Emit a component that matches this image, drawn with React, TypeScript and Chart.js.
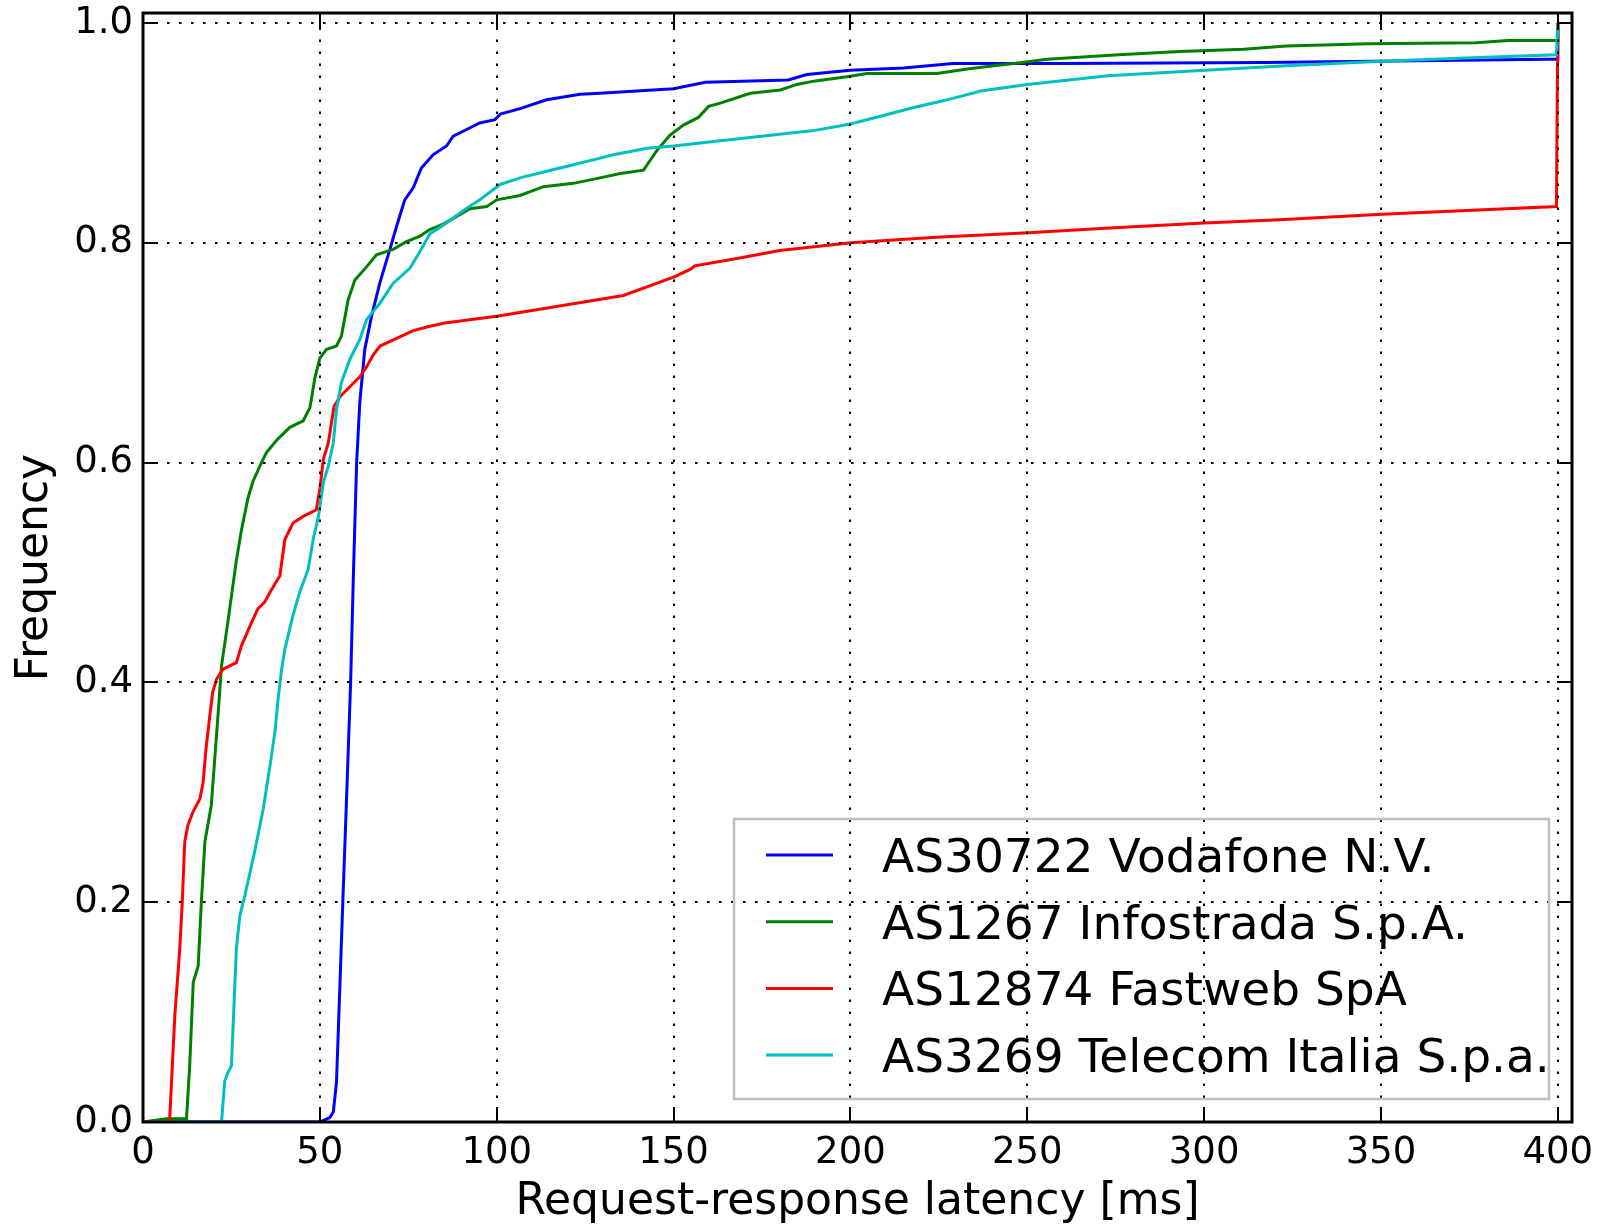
import React, { useEffect, useRef } from "react";
import { Chart, registerables } from "chart.js";

Chart.register(...registerables);

// ---- Data ----
const vodafoneX = [0, 50, 52.8, 53.8, 54.7, 55.7, 56.6, 57.5, 58.7, 59.5, 60.4, 61.3, 62.7, 64.6, 67.0, 69.8, 71.7, 74.0, 76.4, 78.7, 82.0, 85.8, 87.7, 91.5, 95.2, 99.5, 101, 106.6, 114.1, 123.6, 129.2, 144.2, 150, 159, 182.4, 187.7, 200, 215, 229, 259.4, 317, 397, 400, 400];
const vodafoneY = [0, 0, 0.004, 0.009, 0.036, 0.127, 0.21, 0.29, 0.4, 0.5, 0.6, 0.655, 0.703, 0.733, 0.764, 0.794, 0.815, 0.839, 0.85, 0.868, 0.88, 0.888, 0.897, 0.903, 0.909, 0.912, 0.917, 0.922, 0.93, 0.935, 0.936, 0.939, 0.94, 0.946, 0.948, 0.953, 0.957, 0.959, 0.963, 0.963, 0.964, 0.967, 0.967, 1.0];

const infostradaX = [0, 6.6, 12.3, 13.2, 14.2, 15.6, 16.5, 17.5, 19.3, 21.2, 22.2, 24.0, 26.4, 27.8, 29.7, 31.1, 33.5, 34.9, 37.7, 41.5, 45.3, 47.2, 48.6, 50, 51.9, 54.7, 56.1, 58.0, 59.9, 63.2, 66.0, 70.7, 74.5, 78.3, 81.1, 84.9, 88.7, 92.4, 97.2, 100, 106.6, 113.2, 121.7, 129.2, 134.9, 141.5, 143.4, 145.3, 149, 152.8, 157, 159.9, 163.2, 171.7, 180.2, 184.9, 189.6, 199, 204.7, 224.5, 233, 240.5, 246.2, 255.6, 275.8, 293, 311.2, 323.3, 346.5, 376.9, 385.9, 400, 400];
const infostradaY = [0, 0.003, 0.003, 0.051, 0.127, 0.142, 0.2, 0.255, 0.288, 0.37, 0.415, 0.455, 0.511, 0.538, 0.568, 0.583, 0.6, 0.609, 0.62, 0.632, 0.638, 0.65, 0.677, 0.695, 0.703, 0.706, 0.715, 0.748, 0.766, 0.778, 0.789, 0.794, 0.801, 0.806, 0.812, 0.817, 0.824, 0.831, 0.833, 0.839, 0.843, 0.851, 0.854, 0.859, 0.863, 0.866, 0.875, 0.884, 0.898, 0.907, 0.914, 0.924, 0.927, 0.936, 0.939, 0.944, 0.947, 0.951, 0.954, 0.954, 0.958, 0.961, 0.963, 0.967, 0.971, 0.974, 0.976, 0.979, 0.981, 0.982, 0.984, 0.984, 1.0];

const fastwebX = [0, 7.5, 9.0, 10.4, 11.1, 11.8, 12.7, 14.1, 16.1, 17.0, 17.8, 18.9, 19.7, 20.8, 22.6, 26.4, 27.8, 30.2, 32.5, 34.4, 35.9, 38.7, 40.1, 42.4, 45.3, 49.0, 50.0, 51.0, 52.4, 54.0, 55.7, 58.5, 61.3, 63.2, 65.1, 67.0, 71.7, 76.4, 81.1, 85.3, 100, 116.9, 135.8, 150.2, 154.8, 156, 168.7, 180, 200.2, 224.2, 250.4, 270.7, 300, 321.3, 350.3, 399.6, 400];
const fastwebY = [0, 0, 0.097, 0.158, 0.2, 0.255, 0.27, 0.282, 0.294, 0.309, 0.339, 0.37, 0.391, 0.403, 0.412, 0.418, 0.433, 0.451, 0.467, 0.473, 0.482, 0.497, 0.53, 0.545, 0.551, 0.557, 0.576, 0.603, 0.618, 0.651, 0.66, 0.669, 0.678, 0.687, 0.698, 0.706, 0.713, 0.72, 0.724, 0.727, 0.733, 0.742, 0.752, 0.769, 0.776, 0.779, 0.786, 0.793, 0.8, 0.805, 0.809, 0.813, 0.818, 0.821, 0.826, 0.833, 1.0];

const telecomX = [0, 22.2, 23.1, 24.0, 25.0, 25.6, 26.4, 27.4, 28.8, 31.7, 34.0, 35.9, 37.3, 38.2, 39.2, 40.1, 42.4, 44.3, 46.7, 48.1, 49.6, 51.0, 52.4, 53.8, 54.7, 56.1, 58.5, 61.3, 63.2, 67.0, 70.7, 75.5, 78.3, 81.1, 85.8, 90.5, 95.2, 101, 106.6, 114.1, 121.7, 129.2, 133, 142.5, 150, 161.3, 175.5, 189.6, 200, 208.5, 217.9, 227.4, 236.8, 250, 272.8, 300.3, 323.3, 350.3, 373.8, 399.6, 400];
const telecomY = [0, 0, 0.037, 0.045, 0.051, 0.097, 0.158, 0.188, 0.206, 0.248, 0.285, 0.324, 0.355, 0.385, 0.412, 0.43, 0.461, 0.482, 0.503, 0.53, 0.551, 0.582, 0.597, 0.618, 0.648, 0.673, 0.694, 0.712, 0.73, 0.745, 0.763, 0.777, 0.792, 0.808, 0.818, 0.829, 0.839, 0.853, 0.859, 0.865, 0.871, 0.877, 0.88, 0.886, 0.888, 0.892, 0.897, 0.902, 0.908, 0.915, 0.923, 0.93, 0.938, 0.944, 0.952, 0.957, 0.961, 0.965, 0.968, 0.971, 1.0];

const seriesLabels = [
  "AS30722 Vodafone N.V.",
  "AS1267 Infostrada S.p.A.",
  "AS12874 Fastweb SpA",
  "AS3269 Telecom Italia S.p.a.",
];

const xTickValues = [0, 50, 100, 150, 200, 250, 300, 350, 400];
const yTickValues = [0, 0.2, 0.4, 0.6, 0.8, 1.0];
const xAxisTitle = "Request-response latency [ms]";
const yAxisTitle = "Frequency";

// ---- Styles ----
const seriesColors = ["#0000ff", "#008000", "#ff0000", "#00bfbf"];
const FONT = "'DejaVu Sans', sans-serif";

const toPoints = (xs: number[], ys: number[]) => xs.map((x, i) => ({ x, y: ys[i] }));

const framePlugin = {
  id: "mplFrame",
  afterDatasetsDraw(chart: any) {
    const { ctx, chartArea, scales } = chart;
    const { left, right, top, bottom } = chartArea;
    const xs = scales.x;
    const ys = scales.y;
    ctx.save();
    // dotted grid (drawn above lines, like matplotlib classic)
    ctx.strokeStyle = "#000";
    ctx.lineWidth = 2;
    ctx.setLineDash([2.5, 9.5]);
    for (const v of xTickValues) {
      const px = Math.round(xs.getPixelForValue(v));
      ctx.beginPath();
      ctx.moveTo(px, bottom);
      ctx.lineTo(px, top);
      ctx.stroke();
    }
    for (const v of yTickValues) {
      const py = Math.round(ys.getPixelForValue(v));
      ctx.beginPath();
      ctx.moveTo(left, py);
      ctx.lineTo(right, py);
      ctx.stroke();
    }
    ctx.setLineDash([]);
    // inward ticks on all sides
    ctx.lineWidth = 2;
    const tl = 15;
    for (const v of xTickValues) {
      const px = Math.round(xs.getPixelForValue(v));
      ctx.beginPath();
      ctx.moveTo(px, bottom);
      ctx.lineTo(px, bottom - tl);
      ctx.moveTo(px, top);
      ctx.lineTo(px, top + tl);
      ctx.stroke();
    }
    for (const v of yTickValues) {
      const py = Math.round(ys.getPixelForValue(v));
      ctx.beginPath();
      ctx.moveTo(left, py);
      ctx.lineTo(left + tl, py);
      ctx.moveTo(right, py);
      ctx.lineTo(right - tl, py);
      ctx.stroke();
    }
    // spines
    ctx.lineWidth = 3;
    ctx.strokeRect(left, top, right - left, bottom - top);
    ctx.restore();
  },
  afterDraw(chart: any) {
    const { ctx, chartArea } = chart;
    const bw = 815;
    const bh = 280;
    const bx = chartArea.right - 23 - bw;
    const by = chartArea.bottom - 23 - bh;
    ctx.save();
    ctx.strokeStyle = "#bfbfbf";
    ctx.lineWidth = 2.5;
    ctx.strokeRect(bx, by, bw, bh);
    ctx.font = `47px ${FONT}`;
    ctx.textAlign = "left";
    ctx.textBaseline = "alphabetic";
    ctx.fillStyle = "#000";
    seriesLabels.forEach((label, i) => {
      const cy = by + 36 + i * 66.7;
      ctx.strokeStyle = seriesColors[i];
      ctx.lineWidth = 3;
      ctx.beginPath();
      ctx.moveTo(bx + 32, cy);
      ctx.lineTo(bx + 99, cy);
      ctx.stroke();
      ctx.fillText(label, bx + 148, cy + 17);
    });
    ctx.restore();
  },
};

export default function App() {
  const canvasRef = useRef<HTMLCanvasElement | null>(null);

  useEffect(() => {
    document.body.style.margin = "0";
    const canvas = canvasRef.current;
    if (!canvas) return;
    const xsArr = [vodafoneX, infostradaX, fastwebX, telecomX];
    const ysArr = [vodafoneY, infostradaY, fastwebY, telecomY];
    const chart = new Chart(canvas, {
      type: "line",
      data: {
        datasets: seriesLabels.map((label, i) => ({
          label,
          data: toPoints(xsArr[i], ysArr[i]),
          borderColor: seriesColors[i],
          backgroundColor: seriesColors[i],
          borderWidth: 3,
          pointRadius: 0,
          pointHoverRadius: 0,
          tension: 0,
          fill: false,
          order: 4 - i,
        })),
      },
      options: {
        animation: false,
        responsive: false,
        devicePixelRatio: 1,
        events: [],
        layout: { padding: { left: 0, top: 13, right: 32, bottom: 0 } },
        plugins: { legend: { display: false }, tooltip: { enabled: false } },
        scales: {
          x: {
            type: "linear",
            min: 0,
            max: 404,
            grid: { display: false, drawTicks: false },
            border: { display: false },
            afterBuildTicks: (scale: any) => {
              scale.ticks = xTickValues.map((v) => ({ value: v }));
            },
            afterFit: (scale: any) => {
              scale.height = 105;
              scale.paddingLeft = 0;
              scale.paddingRight = 0;
            },
            ticks: {
              color: "#000",
              padding: 9,
              maxRotation: 0,
              autoSkip: false,
              font: { family: FONT, size: 37 },
              callback: (v: any) => String(v),
            },
            title: {
              display: true,
              text: xAxisTitle,
              color: "#000",
              font: { family: FONT, size: 44 },
              padding: { top: 0, bottom: -2 },
            },
          },
          y: {
            type: "linear",
            min: 0,
            max: 1.009,
            grid: { display: false, drawTicks: false },
            border: { display: false },
            afterBuildTicks: (scale: any) => {
              scale.ticks = yTickValues.map((v) => ({ value: v }));
            },
            afterFit: (scale: any) => {
              scale.width = 143;
              scale.paddingTop = 0;
              scale.paddingBottom = 0;
            },
            ticks: {
              color: "#000",
              padding: 10,
              autoSkip: false,
              font: { family: FONT, size: 37 },
              callback: (v: any) => Number(v).toFixed(1),
            },
            title: {
              display: true,
              text: yAxisTitle,
              color: "#000",
              font: { family: FONT, size: 44 },
              padding: { top: 9, bottom: 0 },
            },
          },
        },
      },
      plugins: [framePlugin],
    } as any);
    return () => chart.destroy();
  }, []);

  return (
    <div style={{ position: "absolute", left: 0, top: 0, width: 1604, height: 1227, background: "#fff" }}>
      <canvas ref={canvasRef} width={1604} height={1227} style={{ width: 1604, height: 1227, display: "block" }} />
    </div>
  );
}
